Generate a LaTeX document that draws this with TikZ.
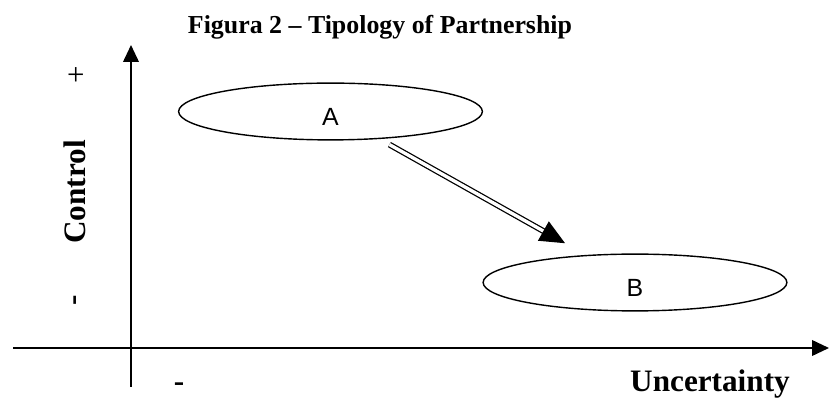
\documentclass[tikz,border=0pt]{standalone}
\usepackage{fontspec}
\setmainfont{Liberation Serif}
\newfontfamily\ellfont{Liberation Sans}
\usetikzlibrary{arrows.meta,shapes.geometric}

\begin{document}
\begin{tikzpicture}[x=0.025cm,y=-0.025cm,
	axis/.style={line width=1.4pt,-{Triangle[length=12pt,width=11pt]}},
	partner/.style={ellipse,draw,line width=1pt,minimum width=216pt,minimum height=40.4pt,inner sep=0pt,
		font=\ellfont\fontsize{17.7}{20}\selectfont,text height=19.7pt,text depth=0pt},
	bigbold/.style={font=\bfseries\fontsize{22.2}{26}\selectfont}]

	\useasboundingbox (0,0) rectangle (829,398);

	\node[anchor=base,font=\bfseries\fontsize{18.4}{22}\selectfont] (title) at (380,34) {Figura 2 -- Tipology of Partnership};

	% axes
	\coordinate (ybot) at (131,387);
	\coordinate (ytop) at (131,45);
	\coordinate (xleft) at (13,348);
	\coordinate (xright) at (829,348);
	\draw[axis] (ybot) -- (ytop);
	\draw[axis] (xleft) -- (xright);

	\node[bigbold,rotate=90] (control) at (75,192) {Control};
	\node[rotate=90,font=\fontsize{22}{26}\selectfont] (plus) at (78,75) {+};
	\node[bigbold,rotate=90] (minusy) at (78,300) {-};
	\node[bigbold] (minusx) at (179,387) {-};
	\node[bigbold,anchor=base] (uncert) at (710,392) {Uncertainty};

	% partnership types
	\node[partner] (A) at (330.5,111.5) {A};
	\node[partner] (B) at (635,282.5) {B};

	\draw[line width=0.9pt,double distance=2.4pt,-{Triangle[length=17.7pt,width=15.6pt]},
		shorten <=8pt,shorten >=17pt] (A) -- (B); %from A to B

\end{tikzpicture}
\end{document}
